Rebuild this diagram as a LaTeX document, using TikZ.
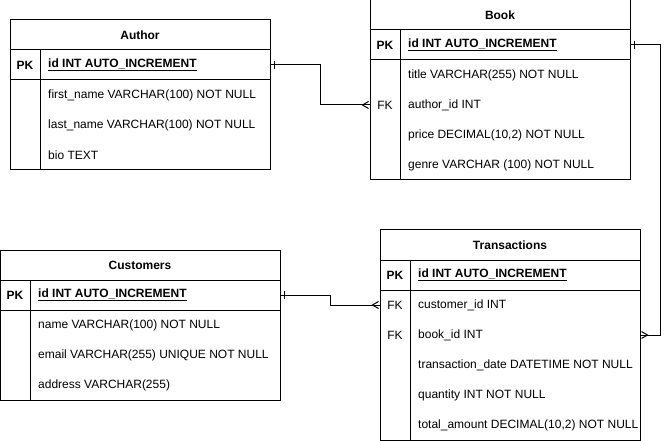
\documentclass[tikz,border=0pt]{standalone}
\usepackage{fontspec}
\setmainfont{Liberation Sans}
\usetikzlibrary{positioning}

\newcommand{\erfont}{\fontsize{12}{14}\selectfont}

\tikzset{
  tablebox/.style={draw,line width=1pt,minimum width=260pt,inner sep=0pt},
  title/.style={font=\erfont\bfseries,inner sep=0pt},
  keylbl/.style={font=\erfont,inner sep=0pt},
  pklbl/.style={font=\erfont\bfseries,inner sep=0pt},
  field/.style={font=\erfont,anchor=west,inner sep=0pt},
  pkfield/.style={font=\erfont\bfseries,anchor=west,inner sep=0pt},
  rel/.style={line width=1pt},
  one/.pic={\draw[line width=1pt] (4,-4) -- (4,4);},
  many/.pic={\draw[line width=1pt] (-1,-3.5) -- (-7,0) -- (-1,3.5);}
}

\begin{document}
\begin{tikzpicture}[x=1pt,y=-1pt]
\useasboundingbox (0,0) rectangle (670,441);

% Author
\node[tablebox,minimum height=150pt] (author) at (140,95) {};
\draw[line width=1pt] (10,50) -- (270,50) (10,80) -- (270,80) (40,50) -- (40,170);
\node[title] (authorhead) at (140,35) {Author};
\node[pklbl] (authorpk) at (25,65) {PK};
\node[pkfield] (authorid) at (48,65) {\underline{id INT AUTO\_INCREMENT}};
\node[field] (authorfirst) at (48,95) {first\_name VARCHAR(100) NOT NULL};
\node[field] (authorlast) at (48,125) {last\_name VARCHAR(100) NOT NULL};
\node[field] (authorbio) at (48,155) {bio TEXT};

% Book
\node[tablebox,minimum height=180pt] (book) at (500,90) {};
\draw[line width=1pt] (370,30) -- (630,30) (370,60) -- (630,60) (400,30) -- (400,180);
\node[title] (bookhead) at (500,15) {Book};
\node[pklbl] (bookpk) at (385,45) {PK};
\node[pkfield] (bookid) at (408,45) {\underline{id INT AUTO\_INCREMENT}};
\node[field] (booktitle) at (408,75) {title VARCHAR(255) NOT NULL};
\node[keylbl] (bookfk) at (385,105) {FK};
\node[field] (bookauthor) at (408,105) {author\_id INT};
\node[field] (bookprice) at (408,135) {price DECIMAL(10,2) NOT NULL};
\node[field] (bookgenre) at (408,165) {genre VARCHAR (100) NOT NULL};

% Customers
\node[tablebox,minimum width=280pt,minimum height=150pt] (cust) at (140,325) {};
\draw[line width=1pt] (0,280) -- (280,280) (0,310) -- (280,310) (30,280) -- (30,400);
\node[title] (custhead) at (140,265) {Customers};
\node[pklbl] (custpk) at (15,295) {PK};
\node[pkfield] (custid) at (38,295) {\underline{id INT AUTO\_INCREMENT}};
\node[field] (custname) at (38,325) {name VARCHAR(100) NOT NULL};
\node[field] (custemail) at (38,355) {email VARCHAR(255) UNIQUE NOT NULL};
\node[field] (custaddr) at (38,385) {address VARCHAR(255)};

% Transactions
\node[tablebox,minimum height=210pt] (trans) at (510,335) {};
\draw[line width=1pt] (380,260) -- (640,260) (380,290) -- (640,290) (410,260) -- (410,440);
\node[title] (transhead) at (510,245) {Transactions};
\node[pklbl] (transpk) at (395,275) {PK};
\node[pkfield] (transid) at (418,275) {\underline{id INT AUTO\_INCREMENT}};
\node[keylbl] (transfk1) at (395,305) {FK};
\node[field] (transcust) at (418,305) {customer\_id INT};
\node[keylbl] (transfk2) at (395,335) {FK};
\node[field] (transbook) at (418,335) {book\_id INT};
\node[field] (transdate) at (418,365) {transaction\_date DATETIME NOT NULL};
\node[field] (transqty) at (418,395) {quantity INT NOT NULL};
\node[field] (transtotal) at (418,425) {total\_amount DECIMAL(10,2) NOT NULL};

% relations
\draw[rel] (author.east |- authorid) -- ++(50,0) |- (book.west |- bookauthor);
\pic at (author.east |- authorid) {one};
\pic at (book.west |- bookauthor) {many};

\draw[rel] (book.east |- bookid) -- ++(30,0) |- (trans.east |- transbook);
\pic at (book.east |- bookid) {one};
\pic[rotate=180] at (trans.east |- transbook) {many};

\draw[rel] (cust.east |- custid) -- ++(50,0) |- (trans.west |- transcust);
\pic at (cust.east |- custid) {one};
\pic at (trans.west |- transcust) {many};
\end{tikzpicture}
\end{document}
